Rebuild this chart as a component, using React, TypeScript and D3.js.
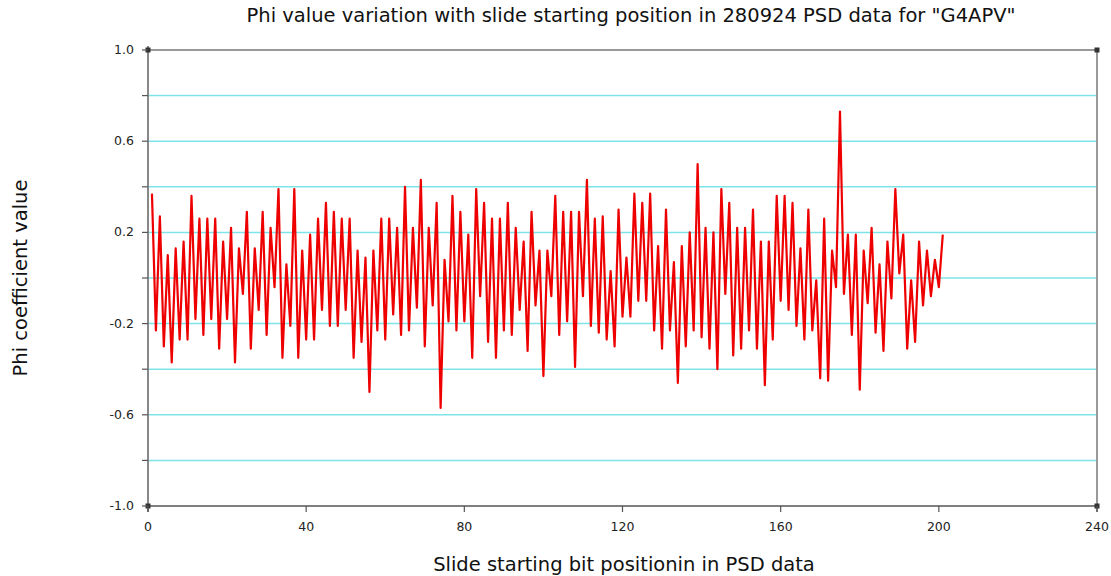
import React from 'react';
import * as d3 from 'd3';

// slide start positions 1..201 and phi values
const phiValues = [
  0.37, -0.23, 0.27, -0.30, 0.10, -0.37, 0.13, -0.27, 0.16, -0.27,
  0.36, -0.18, 0.26, -0.25, 0.26, -0.18, 0.26, -0.31, 0.16, -0.18,
  0.22, -0.37, 0.13, -0.07, 0.29, -0.31, 0.13, -0.14, 0.29, -0.25,
  0.22, -0.04, 0.39, -0.35, 0.06, -0.21, 0.39, -0.35, 0.12, -0.27,
  0.19, -0.27, 0.26, -0.14, 0.33, -0.21, 0.29, -0.21, 0.26, -0.14,
  0.26, -0.35, 0.12, -0.28, 0.09, -0.50, 0.12, -0.23, 0.26, -0.27,
  0.26, -0.16, 0.22, -0.25, 0.40, -0.23, 0.22, -0.13, 0.43, -0.30,
  0.22, -0.12, 0.33, -0.57, 0.08, -0.19, 0.36, -0.23, 0.29, -0.19,
  0.19, -0.35, 0.39, -0.08, 0.33, -0.28, 0.26, -0.35, 0.26, -0.23,
  0.33, -0.25, 0.22, -0.14, 0.16, -0.32, 0.29, -0.12, 0.12, -0.43,
  0.12, -0.08, 0.36, -0.25, 0.29, -0.19, 0.29, -0.39, 0.29, -0.08,
  0.43, -0.21, 0.26, -0.24, 0.27, -0.27, 0.03, -0.30, 0.30, -0.17,
  0.09, -0.17, 0.37, -0.10, 0.33, -0.10, 0.37, -0.23, 0.14, -0.31,
  0.30, -0.23, 0.07, -0.46, 0.14, -0.30, 0.20, -0.23, 0.50, -0.26,
  0.22, -0.31, 0.20, -0.40, 0.39, -0.07, 0.33, -0.34, 0.22, -0.31,
  0.22, -0.23, 0.30, -0.31, 0.16, -0.47, 0.16, -0.27, 0.36, -0.10,
  0.36, -0.14, 0.33, -0.21, 0.13, -0.27, 0.30, -0.23, -0.01, -0.44,
  0.26, -0.45, 0.12, -0.04, 0.73, -0.07, 0.19, -0.25, 0.19, -0.49,
  0.12, -0.11, 0.22, -0.24, 0.06, -0.32, 0.16, -0.09, 0.39, 0.02,
  0.19, -0.31, -0.01, -0.28, 0.16, -0.12, 0.12, -0.08, 0.08, -0.04,
  0.19,
];
const positions = phiValues.map((_, i) => i + 1);

const xTicks = [0, 40, 80, 120, 160, 200, 240];
const yTicks = [-1.0, -0.8, -0.6, -0.4, -0.2, 0, 0.2, 0.4, 0.6, 0.8, 1.0];
const yLabelled = [-1.0, -0.6, -0.2, 0.2, 0.6, 1.0];

const W = 1111;
const H = 576;
const left = 148;
const right = 1097;
const top = 50;
const bottom = 506;
const font = '"DejaVu Sans", Verdana, sans-serif';

export default function App() {
  const x = d3.scaleLinear().domain([0, 240]).range([left, right]);
  const y = d3.scaleLinear().domain([-1, 1]).range([bottom, top]);

  const line = d3
    .line<number>()
    .x((_, i) => x(positions[i]))
    .y(d => y(d));

  return (
    <svg
      width={W}
      height={H}
      style={{ position: 'absolute', left: 0, top: 0, background: '#fff' }}
    >
      {/* cyan grid */}
      {yTicks
        .filter(t => t > -1 && t < 1)
        .map(t => (
          <line key={t} x1={left} x2={right} y1={y(t)} y2={y(t)} stroke="#7fe3ea" strokeWidth={1.5} />
        ))}

      {/* frame */}
      <line x1={left} x2={right} y1={top} y2={top} stroke="#777" strokeWidth={1.5} />
      <line x1={left} x2={right} y1={bottom} y2={bottom} stroke="#555" strokeWidth={1.5} />
      <line x1={left} x2={left} y1={top - 4} y2={bottom + 6} stroke="#888" strokeWidth={2} />
      <line x1={right} x2={right} y1={top - 2} y2={bottom + 6} stroke="#999" strokeWidth={2} />
      {[
        [left, top],
        [right, top],
        [left, bottom],
        [right, bottom],
      ].map(([cx, cy], i) => (
        <rect key={i} x={cx - 2.5} y={cy - 2.5} width={5} height={5} fill="#333" />
      ))}

      {/* y ticks */}
      {yTicks.map(t => (
        <line key={t} x1={left - 6} x2={left} y1={y(t)} y2={y(t)} stroke="#555" strokeWidth={1.2} />
      ))}
      {yLabelled.map(t => (
        <text
          key={t}
          x={left - 14}
          y={y(t) + 4}
          textAnchor="end"
          fontFamily={font}
          fontSize={12.5}
          fill="#222"
        >
          {t.toFixed(1)}
        </text>
      ))}

      {/* x ticks */}
      {xTicks.map(t => (
        <g key={t}>
          <line x1={x(t)} x2={x(t)} y1={bottom} y2={bottom + 6} stroke="#555" strokeWidth={1.2} />
          <text x={x(t)} y={bottom + 25} textAnchor="middle" fontFamily={font} fontSize={12.5} fill="#222">
            {t}
          </text>
        </g>
      ))}

      {/* data */}
      <path d={line(phiValues) ?? ''} fill="none" stroke="#ee0000" strokeWidth={2.2} strokeLinejoin="round" />

      {/* titles */}
      <text x={631} y={22} textAnchor="middle" fontFamily={font} fontSize={19.5} fill="#111">
        Phi value variation with slide starting position in 280924 PSD data for "G4APV"
      </text>
      <text x={624} y={571} textAnchor="middle" fontFamily={font} fontSize={19.5} fill="#111">
        Slide starting bit positionin in PSD data
      </text>
      <text
        transform={`translate(27,${(top + bottom) / 2}) rotate(-90)`}
        textAnchor="middle"
        fontFamily={font}
        fontSize={19.5}
        fill="#111"
      >
        Phi coefficient value
      </text>
    </svg>
  );
}
